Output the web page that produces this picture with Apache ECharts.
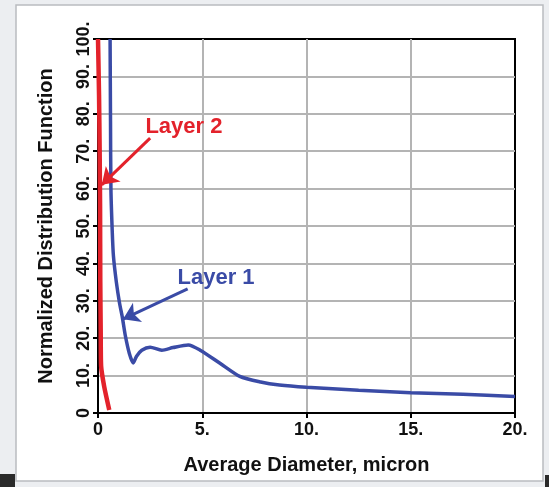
<!DOCTYPE html>
<html>
<head>
<meta charset="utf-8">
<script src="https://cdn.jsdelivr.net/npm/echarts@6/dist/echarts.min.js"></script>
<style>
  html, body { margin: 0; padding: 0; background: #eceef1; }
  #chart { width: 549px; height: 487px; }
</style>
</head>
<body>
<div id="chart"></div>
<script>
// Layer 1: particle size distribution (diameter in micron, normalized value)
const layer1 = [
  [0.58, 100], [0.6, 78], [0.62, 60], [0.68, 49], [0.74, 42], [0.88, 35],
  [1.03, 29.5], [1.17, 25.5], [1.3, 21], [1.5, 16], [1.69, 13.4], [1.85, 15.2],
  [2.1, 16.8], [2.5, 17.6], [3.06, 16.8], [3.6, 17.5], [4.33, 18.2], [4.9, 16.8],
  [5.85, 13.3], [6.8, 9.8], [7.8, 8.3], [8.7, 7.5], [10, 6.9], [12.5, 6.1],
  [15, 5.4], [17.5, 5.0], [20, 4.4]
];
// Layer 2: particle size distribution
const layer2 = [
  [0.0, 100], [0.05, 85], [0.08, 70], [0.1, 55], [0.11, 35], [0.13, 22],
  [0.15, 12.5], [0.3, 7], [0.54, 0.8]
];
const xTicks = [0, 5, 10, 15, 20];
const yTicks = [0, 10, 20, 30, 40, 50, 60, 70, 80, 90, 100];
// callout text and arrow (tail -> tip) in data units
const layer2Label = { text: 'Layer 2', at: [4.12, 76.5], tail: [2.5, 73.5], tip: [0.18, 61] };
const layer1Label = { text: 'Layer 1', at: [5.66, 36.1], tail: [4.3, 33.2], tip: [1.2, 25.1] };

const RED = '#e3222b';
const BLUE = '#3a4ba6';
const FONT = '"Liberation Sans", Arial, sans-serif';

const fmt = v => (v === 0 ? '0' : v + '.');

function callout(c, color) {
  return {
    markLine: {
      silent: true,
      symbol: ['none', 'arrow'],
      symbolSize: 16,
      label: { show: false },
      lineStyle: { color: color, width: 3, type: 'solid' },
      itemStyle: { color: color },
      data: [[{ coord: c.tail }, { coord: c.tip }]]
    },
    markPoint: {
      silent: true,
      symbol: 'circle',
      symbolSize: 0,
      data: [{ name: c.text, coord: c.at }],
      label: {
        show: true, position: 'inside', formatter: '{b}',
        color: color, fontFamily: FONT, fontWeight: 'bold', fontSize: 22
      }
    }
  };
}

const chart = echarts.init(document.getElementById('chart'), null, { renderer: 'canvas' });
chart.setOption({
  animation: false,
  backgroundColor: 'transparent',
  graphic: [
    { type: 'rect', z: -10, shape: { x: 16, y: 5, width: 527, height: 476 },
      style: { fill: '#ffffff', stroke: '#b9bcc0', lineWidth: 1.5 } },
    { type: 'rect', z: -10, shape: { x: 0, y: 474, width: 15, height: 13 },
      style: { fill: '#2a2a2a' } },
    { type: 'rect', z: -10, shape: { x: 545, y: 475, width: 4, height: 12 },
      style: { fill: '#2a2a2a' } }
  ],
  grid: { left: 98, right: 34, top: 39, bottom: 74, show: true,
          borderColor: '#000', borderWidth: 2, backgroundColor: 'transparent' },
  xAxis: {
    type: 'value', min: 0, max: 20, interval: 5,
    name: 'Average Diameter, micron', nameLocation: 'middle', nameGap: 42,
    nameTextStyle: { fontFamily: FONT, fontWeight: 'bold', fontSize: 20, color: '#111' },
    axisLine: { show: true, lineStyle: { color: '#000', width: 2 } },
    axisTick: { show: true, length: 5, lineStyle: { color: '#000', width: 2 } },
    axisLabel: { margin: 8, formatter: fmt, fontFamily: FONT, fontWeight: 'bold', fontSize: 18, color: '#111',
                 customValues: xTicks },
    splitLine: { show: true, showMinLine: false, showMaxLine: false,
                 lineStyle: { color: '#b4b4b4', width: 2 } }
  },
  yAxis: {
    type: 'value', min: 0, max: 100, interval: 10,
    name: 'Normalized Distribution Function', nameLocation: 'middle', nameGap: 42,
    nameTextStyle: { fontFamily: FONT, fontWeight: 'bold', fontSize: 20, color: '#111' },
    axisLine: { show: true, lineStyle: { color: '#000', width: 2 } },
    axisTick: { show: true, length: 5, lineStyle: { color: '#000', width: 2 } },
    axisLabel: { rotate: 90, margin: 5, formatter: fmt, fontFamily: FONT, fontWeight: 'bold', fontSize: 18, color: '#111',
                 customValues: yTicks },
    splitLine: { show: true, showMinLine: false, showMaxLine: false,
                 lineStyle: { color: '#b4b4b4', width: 2 } }
  },
  series: [
    Object.assign({
      name: 'Layer 1', type: 'line', data: layer1, smooth: 0.25,
      showSymbol: false, clip: true,
      lineStyle: { color: BLUE, width: 3.5 }, itemStyle: { color: BLUE }, z: 3
    }, callout(layer1Label, BLUE)),
    Object.assign({
      name: 'Layer 2', type: 'line', data: layer2, smooth: 0.2,
      showSymbol: false, clip: true,
      lineStyle: { color: RED, width: 4.5 }, itemStyle: { color: RED }, z: 4
    }, callout(layer2Label, RED))
  ]
});
</script>
</body>
</html>
